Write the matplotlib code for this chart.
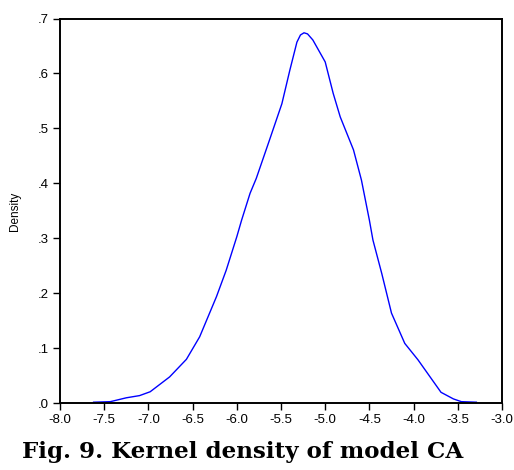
import matplotlib
matplotlib.use("Agg")
import matplotlib.pyplot as plt
from matplotlib.ticker import FixedLocator

x_vals = [-7.62, -7.43, -7.25, -7.10, -6.98, -6.76, -6.57, -6.42, -6.23, -6.12,
          -6.00, -5.946, -5.85, -5.78, -5.63, -5.49, -5.40, -5.32, -5.28, -5.24,
          -5.20, -5.14, -5.00, -4.91, -4.83, -4.68, -4.59, -4.50, -4.46, -4.36,
          -4.25, -4.10, -3.95, -3.69, -3.55, -3.46, -3.29]
density = [0.002, 0.003, 0.010, 0.014, 0.021, 0.048, 0.080, 0.121, 0.194, 0.242,
           0.303, 0.333, 0.382, 0.409, 0.479, 0.545, 0.606, 0.657, 0.670, 0.674,
           0.672, 0.661, 0.621, 0.564, 0.521, 0.461, 0.406, 0.333, 0.297, 0.236,
           0.164, 0.109, 0.079, 0.020, 0.008, 0.003, 0.002]

x_ticks = [-8.0, -7.5, -7.0, -6.5, -6.0, -5.5, -5.0, -4.5, -4.0, -3.5, -3.0]
x_tick_labels = ["-8.0", "-7.5", "-7.0", "-6.5", "-6.0", "-5.5", "-5.0", "-4.5", "-4.0", "-3.5", "-3.0"]
y_ticks = [0.0, 0.1, 0.2, 0.3, 0.4, 0.5, 0.6, 0.7]
y_tick_labels = [".0", ".1", ".2", ".3", ".4", ".5", ".6", ".7"]
caption = "Fig. 9. Kernel density of model CA"

fig = plt.figure(figsize=(5.14, 4.70), dpi=100)
ax = fig.add_axes([60/514, (470-403.3)/470, 442/514, (403.3-18.5)/470])
ax.plot(x_vals, density, color="#0000ff", lw=1.0)
ax.set_xlim(-8.0, -3.0)
ax.set_ylim(0.0, 0.7)
ax.xaxis.set_major_locator(FixedLocator(x_ticks))
ax.set_xticklabels(x_tick_labels, fontfamily="Liberation Sans", fontsize=9.5)
ax.yaxis.set_major_locator(FixedLocator(y_ticks))
ax.set_yticklabels(y_tick_labels, fontfamily="Liberation Sans", fontsize=9.5)
ax.tick_params(direction="out", length=5, width=1.0, color="black", pad=3)
for s in ax.spines.values():
    s.set_linewidth(1.4)
    s.set_color("black")
ax.set_ylabel("Density", fontfamily="Liberation Sans", fontsize=8.5, labelpad=12)

fig.text(242.5/514, (470-452)/470, caption, ha="center", va="center",
         fontfamily="DejaVu Serif", fontweight="bold", fontsize=16.6)

fig.savefig("out.png", dpi=100)
